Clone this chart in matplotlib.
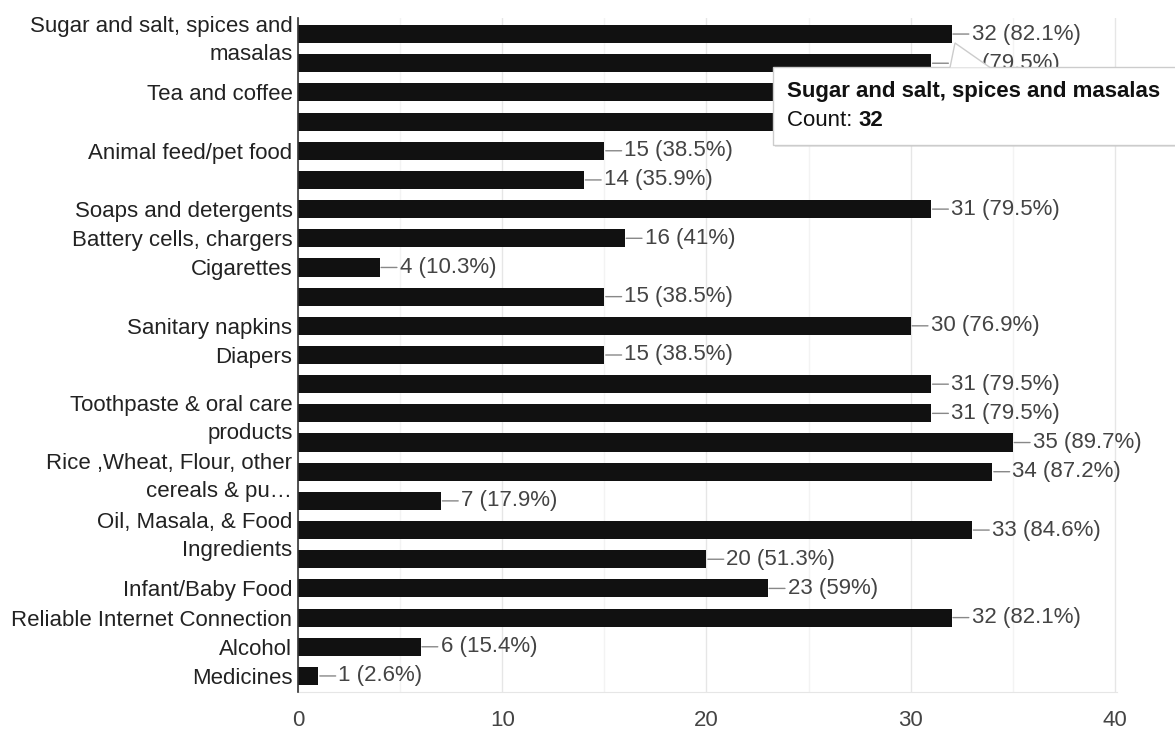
import matplotlib
matplotlib.use("Agg")
import matplotlib.pyplot as plt
from matplotlib.patches import FancyBboxPatch, Polygon

plt.rcParams['font.family'] = ['Liberation Sans', 'DejaVu Sans']

# Tick labels (blank where the chart skips the label)
labels = [
    "Sugar and salt, spices and\nmasalas", "", "Tea and coffee", "",
    "Animal feed/pet food", "", "Soaps and detergents", "Battery cells, chargers",
    "Cigarettes", "", "Sanitary napkins", "Diapers", "",
    "Toothpaste & oral care\nproducts", "", "Rice ,Wheat, Flour, other\ncereals & pu\u2026",
    "", "Oil, Masala, & Food\nIngredients", "", "Infant/Baby Food",
    "Reliable Internet Connection", "Alcohol", "Medicines",
]
counts = [32, 31, 33, 31, 15, 14, 31, 16, 4, 15, 30, 15, 31, 31, 35, 34, 7, 33, 20, 23, 32, 6, 1]
pcts = ["82.1%", "79.5%", "84.6%", "79.5%", "38.5%", "35.9%", "79.5%", "41%", "10.3%",
        "38.5%", "76.9%", "38.5%", "79.5%", "79.5%", "89.7%", "87.2%", "17.9%", "84.6%",
        "51.3%", "59%", "82.1%", "15.4%", "2.6%"]
xticks = [0, 10, 20, 30, 40]
tooltip_title = "Sugar and salt, spices and masalas"
tooltip_count = 32

FS = 16

fig = plt.figure(figsize=(11.75, 7.29), dpi=100)
ax = fig.add_axes([298/1175, 1-692/729, (1117-298)/1175, (692-18)/729])

n = len(counts)
ypos = list(range(n))
ax.barh(ypos, counts, height=0.62, color="#111111", zorder=3)
ax.set_ylim(n-0.45, -0.55)
ax.set_xlim(0, 40.1)

ax.set_xticks(xticks)
ax.set_xticks([5, 15, 25, 35], minor=True)
ax.grid(axis='x', which='major', color="#e6e6e6", lw=1, zorder=0)
ax.grid(axis='x', which='minor', color="#f3f3f3", lw=1, zorder=0)
ax.tick_params(axis='x', which='both', length=0, labelsize=FS, labelcolor="#444444", pad=13)
ax.set_yticks(ypos)
ax.set_yticklabels(labels, fontsize=FS, color="#222222", linespacing=1.45)
ax.tick_params(axis='y', length=0, pad=4)
for s in ['top', 'right']:
    ax.spines[s].set_visible(False)
ax.spines['bottom'].set_color("#e6e6e6")
ax.spines['left'].set_color("#333333")
ax.spines['left'].set_linewidth(1.2)
ax.spines['left'].set_zorder(4)

for i, (c, p) in enumerate(zip(counts, pcts)):
    ax.annotate(f"{c} ({p})", xy=(c, i), xytext=(20, 0), textcoords='offset pixels',
                va='center', ha='left', fontsize=FS, color="#444444",
                arrowprops=dict(arrowstyle='-', color="#888888", lw=1, shrinkA=0, shrinkB=1),
                zorder=5)

# Tooltip
tx0, ty0, tx1, ty1 = 773, 67, 1185, 145
W, H = 1175, 729
def fx(x): return x / W
def fy(y): return 1 - y / H
shadow = FancyBboxPatch((fx(tx0+2), fy(ty1+2)), fx(tx1-tx0), (ty1-ty0)/H,
                        boxstyle="square,pad=0", transform=fig.transFigure,
                        facecolor="#cccccc", edgecolor="none", alpha=0.5, zorder=9)
fig.patches.append(shadow)
box = FancyBboxPatch((fx(tx0), fy(ty1)), fx(tx1-tx0), (ty1-ty0)/H,
                     boxstyle="square,pad=0", transform=fig.transFigure,
                     facecolor="white", edgecolor="#cccccc", lw=1, zorder=10)
fig.patches.append(box)
notch = Polygon([(fx(950), fy(ty0+0.5)), (fx(955), fy(43)), (fx(990), fy(ty0+0.5))],
                closed=False, transform=fig.transFigure, facecolor="white",
                edgecolor="#cccccc", lw=1, zorder=11)
fig.patches.append(notch)
fig.text(fx(787), fy(91), tooltip_title, fontsize=FS, fontweight='bold',
         color="#111111", va='center', ha='left', zorder=12)
t1 = fig.text(fx(787), fy(121), "Count: ", fontsize=FS, color="#111111",
              va='center', ha='left', zorder=12)
fig.canvas.draw()
bb = t1.get_window_extent()
fig.text(bb.x1 / W, fy(121), str(tooltip_count), fontsize=FS, fontweight='bold',
         color="#111111", va='center', ha='left', zorder=12)

fig.savefig("out.png", dpi=100)
